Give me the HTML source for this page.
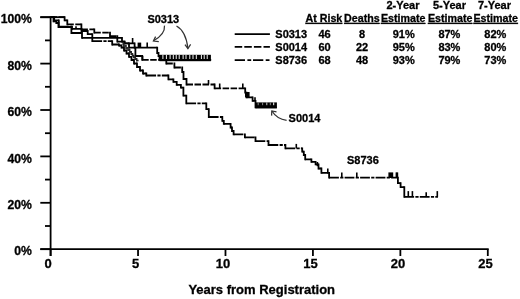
<!DOCTYPE html>
<html><head><meta charset="utf-8"><style>
html,body{margin:0;padding:0;background:#fff;width:520px;height:299px;overflow:hidden}
svg{display:block}
text{font-family:'Liberation Sans',sans-serif;font-weight:bold;fill:#000;stroke:#000;stroke-width:0.3px}
.tl{font-size:13px}
.yl{font-size:12.2px}
.ttl{font-size:13px}
.lg text{font-size:11px}
.lg2{font-size:11px}
.lg text.hd{font-size:10.7px;text-decoration:underline}
svg{will-change:transform;filter:blur(0.3px)}
.ax{stroke:#000;stroke-width:1.8;fill:none}
.c{stroke:#000;stroke-width:1.8;fill:none;stroke-linejoin:miter}
.s2{stroke-dasharray:6.5 1.5}
.l2{stroke-dasharray:7.5 2.1}
.l3{stroke-dasharray:10.3 2.4 3.8 1.8}
.s3{stroke-dasharray:9.8 1.3 3.2 1.2}
.tk{stroke:#000;stroke-width:1.6}
.arr{stroke:#333;stroke-width:1.25;fill:none}
</style></head><body>
<svg width="520" height="299" viewBox="0 0 520 299">
<line x1="40.3" y1="17.2" x2="50.6" y2="17.2" class="ax"/>
<line x1="50.6" y1="16.3" x2="50.6" y2="256" class="ax"/>
<line x1="40.3" y1="249.2" x2="488.7" y2="249.2" class="ax"/>
<line x1="40.3" y1="249.20" x2="50.6" y2="249.20" class="ax"/>
<line x1="45" y1="226.00" x2="50.6" y2="226.00" class="ax"/>
<line x1="40.3" y1="202.80" x2="50.6" y2="202.80" class="ax"/>
<line x1="45" y1="179.60" x2="50.6" y2="179.60" class="ax"/>
<line x1="40.3" y1="156.40" x2="50.6" y2="156.40" class="ax"/>
<line x1="45" y1="133.20" x2="50.6" y2="133.20" class="ax"/>
<line x1="40.3" y1="110.00" x2="50.6" y2="110.00" class="ax"/>
<line x1="45" y1="86.80" x2="50.6" y2="86.80" class="ax"/>
<line x1="40.3" y1="63.60" x2="50.6" y2="63.60" class="ax"/>
<line x1="45" y1="40.40" x2="50.6" y2="40.40" class="ax"/>
<line x1="40.3" y1="17.20" x2="50.6" y2="17.20" class="ax"/>
<line x1="50.60" y1="249.2" x2="50.60" y2="256" class="ax"/>
<text x="48.20" y="267.6" class="tl" text-anchor="middle">0</text>
<line x1="138.04" y1="249.2" x2="138.04" y2="256" class="ax"/>
<text x="135.64" y="267.6" class="tl" text-anchor="middle">5</text>
<line x1="225.48" y1="249.2" x2="225.48" y2="256" class="ax"/>
<text x="223.08" y="267.6" class="tl" text-anchor="middle">10</text>
<line x1="312.92" y1="249.2" x2="312.92" y2="256" class="ax"/>
<text x="310.52" y="267.6" class="tl" text-anchor="middle">15</text>
<line x1="400.36" y1="249.2" x2="400.36" y2="256" class="ax"/>
<text x="397.96" y="267.6" class="tl" text-anchor="middle">20</text>
<line x1="487.80" y1="249.2" x2="487.80" y2="256" class="ax"/>
<text x="485.40" y="267.6" class="tl" text-anchor="middle">25</text>
<text x="31.9" y="255.30" class="yl" text-anchor="end">0%</text>
<text x="31.9" y="208.90" class="yl" text-anchor="end">20%</text>
<text x="31.9" y="162.50" class="yl" text-anchor="end">40%</text>
<text x="31.9" y="116.10" class="yl" text-anchor="end">60%</text>
<text x="31.9" y="69.70" class="yl" text-anchor="end">80%</text>
<text x="31.9" y="23.30" class="yl" text-anchor="end">100%</text>
<text x="188.4" y="294" class="ttl">Years from Registration</text>
<g class="lg">
<text x="403" y="9" text-anchor="middle">2-Year</text>
<text x="449.5" y="9" text-anchor="middle">5-Year</text>
<text x="494.5" y="9" text-anchor="middle">7-Year</text>
<text x="323.9" y="21.9" text-anchor="middle" class="hd">At Risk</text>
<text x="361.9" y="21.9" text-anchor="middle" class="hd">Deaths</text>
<text x="403.2" y="21.9" text-anchor="middle" class="hd">Estimate</text>
<text x="450.2" y="21.9" text-anchor="middle" class="hd">Estimate</text>
<text x="495.7" y="21.9" text-anchor="middle" class="hd">Estimate</text>
<text x="275.3" y="37.9">S0313</text>
<text x="324.5" y="37.9" text-anchor="middle">46</text>
<text x="362" y="37.9" text-anchor="middle">8</text>
<text x="403.7" y="37.9" text-anchor="middle">91%</text>
<text x="449.4" y="37.9" text-anchor="middle">87%</text>
<text x="495.3" y="37.9" text-anchor="middle">82%</text>
<text x="275.3" y="51.0">S0014</text>
<text x="324.5" y="51.0" text-anchor="middle">60</text>
<text x="362" y="51.0" text-anchor="middle">22</text>
<text x="403.7" y="51.0" text-anchor="middle">95%</text>
<text x="449.4" y="51.0" text-anchor="middle">83%</text>
<text x="495.3" y="51.0" text-anchor="middle">80%</text>
<text x="275.3" y="64.1">S8736</text>
<text x="324.5" y="64.1" text-anchor="middle">68</text>
<text x="362" y="64.1" text-anchor="middle">48</text>
<text x="403.7" y="64.1" text-anchor="middle">93%</text>
<text x="449.4" y="64.1" text-anchor="middle">79%</text>
<text x="495.3" y="64.1" text-anchor="middle">73%</text>
</g>
<line x1="234.7" y1="34.1" x2="269.9" y2="34.1" class="c s1"/>
<line x1="234.7" y1="46.8" x2="269.9" y2="46.8" class="c l2"/>
<line x1="234.7" y1="60.1" x2="269.9" y2="60.1" class="c l3"/>
<path d="M50.6,17.2 H53.5 M53.5,21.4 H56.3 M56.3,23 H58.5 M58.5,27 H71.4 M71.4,33.0 H82 M82,37.8 H122 M122,41.6 H124.5 M124.5,43.4 H134.6 M134.6,47.6 H157.2 M157.2,53 H158.5 M158.5,56 H159.5 M159.5,59.9 H211.2" class="c s1"/>
<path d="M53.5,16.30 V22.30 M56.3,20.50 V23.90 M58.5,22.10 V27.90 M71.4,26.10 V33.90 M82,32.10 V38.70 M122,36.90 V42.50 M124.5,40.70 V44.30 M134.6,42.50 V48.50 M157.2,46.70 V53.90 M158.5,52.10 V56.90 M159.5,55.10 V60.80" class="c"/>
<path d="M50.6,17.2 H64.6 M64.6,20.3 H67.3 M67.3,24.4 H81.4 M81.4,29.3 H94.3 M94.3,32.7 H110 M110,36.1 H117.3 M117.3,41.6 H124.5 M124.5,43.4 H129 M129,47.6 H135.4 M135.4,56 H142.2 M142.2,59.9 H166.3 M166.3,63.5 H174.4 M174.4,67.5 H182.2 M182.2,72 H183.5 M183.5,79 H186.5 M186.5,84.5 H214.6 M214.6,88.4 H245.2" class="c s2"/>
<path d="M64.6,16.30 V21.20 M67.3,19.40 V25.30 M81.4,23.50 V30.20 M94.3,28.40 V33.60 M110,31.80 V37.00 M117.3,35.20 V42.50 M124.5,40.70 V44.30 M129,42.50 V48.50 M135.4,46.70 V56.90 M142.2,55.10 V60.80 M166.3,59.00 V64.40 M174.4,62.60 V68.40 M182.2,66.60 V72.90 M183.5,71.10 V79.90 M186.5,78.10 V85.40 M214.6,83.60 V89.30 M245.2,87.50 V93.50" class="c"/>
<path d="M245.2,92.6 H246.5 M246.5,97.4 H252.6 M252.6,100.9 H255.5 M255.5,107.4 H276.7" class="c s1"/>
<path d="M246.5,91.70 V98.30 M252.6,96.50 V101.80 M255.5,100.00 V108.30" class="c"/>
<path d="M50.6,17.2 H54.2 M54.2,20.3 H58.8 M58.8,26.6 H72 M72,28.8 H81.5 M81.5,31.0 H87.7 M87.7,34.1 H92.3 M92.3,41.2 H112.2 M112.2,44.5 H119 M119,45.5 H121.5 M121.5,47.5 H124 M124,50.5 H126.5 M126.5,53.5 H129 M129,56.8 H131.5 M131.5,60 H134 M134,63.5 H137 M137,67 H140 M140,70.5 H143 M143,73.5 H146.3 M146.3,75.5 H168.4 M168.4,79.3 H173.4 M173.4,81.8 H176.7 M176.7,84.8 H180.9 M180.9,87.6 H183.4 M183.4,95.7 H186.3 M186.3,103.3 H206.3 M206.3,109.1 H208.8 M208.8,117 H222.3 M222.3,120.8 H223.8 M223.8,123.8 H230.6 M230.6,127.5 H232 M232,131 H233.6 M233.6,134.4 H244.9 M244.9,137.4 H255.5 M255.5,141.1 H268.5 M268.5,145 H285.4 M285.4,148.4 H302.2 M302.2,151.7 H303.8 M303.8,155 H305.2 M305.2,159.3 H311.4 M311.4,161.8 H315.6 M315.6,164.3 H318.5 M318.5,168.5 H321.4 M321.4,172.9 H329.1 M329.1,177.6 H397.9 M397.9,183.2 H400.6 M400.6,187.1 H404.3 M404.3,196.9 H438" class="c s3"/>
<path d="M54.2,16.30 V21.20 M58.8,19.40 V27.50 M72,25.70 V29.70 M81.5,27.90 V31.90 M87.7,30.10 V35.00 M92.3,33.20 V42.10 M112.2,40.30 V45.40 M119,43.60 V46.40 M121.5,44.60 V48.40 M124,46.60 V51.40 M126.5,49.60 V54.40 M129,52.60 V57.70 M131.5,55.90 V60.90 M134,59.10 V64.40 M137,62.60 V67.90 M140,66.10 V71.40 M143,69.60 V74.40 M146.3,72.60 V76.40 M168.4,74.60 V80.20 M173.4,78.40 V82.70 M176.7,80.90 V85.70 M180.9,83.90 V88.50 M183.4,86.70 V96.60 M186.3,94.80 V104.20 M206.3,102.40 V110.00 M208.8,108.20 V117.90 M222.3,116.10 V121.70 M223.8,119.90 V124.70 M230.6,122.90 V128.40 M232,126.60 V131.90 M233.6,130.10 V135.30 M244.9,133.50 V138.30 M255.5,136.50 V142.00 M268.5,140.20 V145.90 M285.4,144.10 V149.30 M302.2,147.50 V152.60 M303.8,150.80 V155.90 M305.2,154.10 V160.20 M311.4,158.40 V162.70 M315.6,160.90 V165.20 M318.5,163.40 V169.40 M321.4,167.60 V173.80 M329.1,172.00 V178.50 M397.9,176.70 V184.10 M400.6,182.30 V188.00 M404.3,186.20 V197.80" class="c"/>
<path d="M122.3,44 H123.8 M123.8,46 H126 M126,48 H128 M128,50 H129.7 M129.7,52 H131.2 M131.2,54 H132.5 M132.5,55.7 H133.8 M133.8,57.4 H135.3 M135.3,59 H136.7 M136.7,60.5 H138.6" class="c s1" style="stroke:#222;stroke-width:1.5"/>
<path d="M123.8,43.10 V46.90 M126,45.10 V48.90 M128,47.10 V50.90 M129.7,49.10 V52.90 M131.2,51.10 V54.90 M132.5,53.10 V56.60 M133.8,54.80 V58.30 M135.3,56.50 V59.90 M136.7,58.10 V61.40" class="c" style="stroke:#222;stroke-width:1.5"/>
<rect x="159.5" y="54.8" width="51.400000000000006" height="6.400000000000006" fill="#000"/>
<rect x="162.4" y="54.8" width="1.0" height="4.200000000000003" fill="#f4f4f4"/>
<rect x="165.9" y="54.8" width="1.0" height="4.200000000000003" fill="#f4f4f4"/>
<rect x="169.6" y="54.8" width="1.0" height="4.200000000000003" fill="#f4f4f4"/>
<rect x="172.8" y="54.8" width="1.0" height="4.200000000000003" fill="#f4f4f4"/>
<rect x="175.7" y="54.8" width="1.0" height="4.200000000000003" fill="#f4f4f4"/>
<rect x="178.7" y="54.8" width="1.0" height="4.200000000000003" fill="#f4f4f4"/>
<rect x="182.6" y="54.8" width="1.0" height="4.200000000000003" fill="#f4f4f4"/>
<rect x="185.5" y="54.8" width="1.0" height="4.200000000000003" fill="#f4f4f4"/>
<rect x="189.3" y="54.8" width="1.0" height="4.200000000000003" fill="#f4f4f4"/>
<rect x="192.5" y="54.8" width="1.0" height="4.200000000000003" fill="#f4f4f4"/>
<rect x="195.8" y="54.8" width="1.0" height="4.200000000000003" fill="#f4f4f4"/>
<rect x="200.9" y="54.8" width="1.0" height="4.200000000000003" fill="#f4f4f4"/>
<rect x="203.7" y="54.8" width="1.0" height="4.200000000000003" fill="#f4f4f4"/>
<rect x="206.7" y="54.8" width="1.0" height="4.200000000000003" fill="#f4f4f4"/>
<rect x="255.5" y="102.4" width="21.399999999999977" height="5.8999999999999915" fill="#000"/>
<rect x="257.7" y="102.4" width="1.0" height="2.799999999999997" fill="#888"/>
<rect x="262.1" y="102.4" width="1.0" height="2.799999999999997" fill="#888"/>
<rect x="266.3" y="102.4" width="1.0" height="2.799999999999997" fill="#ccc"/>
<rect x="269.8" y="102.4" width="1.0" height="2.799999999999997" fill="#888"/>
<rect x="273.2" y="102.4" width="1.0" height="2.799999999999997" fill="#fff"/>
<rect x="245" y="92" width="4.6" height="5.3" fill="#000"/>
<line x1="132.6" y1="43.4" x2="132.6" y2="38.0" class="tk"/>
<line x1="76" y1="28.8" x2="76" y2="26.3" class="tk"/>
<line x1="147.2" y1="47.6" x2="147.2" y2="42.4" class="tk"/>
<line x1="50.6" y1="17.2" x2="64.6" y2="17.2" class="c"/>
<rect x="137.6" y="42.6" width="3.6" height="5" fill="#000"/>
<line x1="142.6" y1="59.9" x2="142.6" y2="55.9" class="tk"/>
<line x1="208.5" y1="84.5" x2="208.5" y2="80.0" class="tk"/>
<line x1="219.7" y1="88.5" x2="219.7" y2="83.5" class="tk"/>
<line x1="242.8" y1="88.5" x2="242.8" y2="83.5" class="tk"/>
<line x1="255.0" y1="100.9" x2="255.0" y2="97.30000000000001" class="tk"/>
<line x1="296.3" y1="148.4" x2="296.3" y2="143.9" class="tk"/>
<line x1="327.8" y1="173.4" x2="327.8" y2="168.6" class="tk"/>
<line x1="317.4" y1="166.2" x2="317.4" y2="162.0" class="tk"/>
<line x1="341.8" y1="177.6" x2="341.8" y2="172.6" class="tk"/>
<line x1="356.8" y1="177.6" x2="356.8" y2="172.6" class="tk"/>
<rect x="388.4" y="172.4" width="4.8" height="5.6" fill="#000"/>
<line x1="396.4" y1="177.6" x2="396.4" y2="172.4" class="tk"/>
<line x1="397.4" y1="177.6" x2="397.4" y2="172.4" class="tk"/>
<line x1="408.3" y1="196.9" x2="408.3" y2="191.1" class="tk"/>
<line x1="412.4" y1="196.9" x2="412.4" y2="191.1" class="tk"/>
<line x1="437.3" y1="196.9" x2="437.3" y2="191.1" class="tk"/>
<line x1="426.2" y1="196.9" x2="426.2" y2="192.3" class="tk"/>
<text x="147.4" y="22.8" class="lg2">S0313</text>
<text x="288.6" y="122.3" class="lg2">S0014</text>
<text x="347" y="163.7" class="lg2">S8736</text>
<path d="M164.5,25.6 C165,31 162,36 153.6,40.8" class="arr"/>
<path d="M155.6,36.6 L153.4,41 L158.8,41.6" class="arr"/>
<path d="M176.5,26 C182,29 186.5,36 187.9,48.4" class="arr"/>
<path d="M185,44.6 L187.9,48.6 L190.6,44.4" class="arr"/>
<path d="M286.6,120.3 C280,119.5 275,116 271.9,111" class="arr"/>
<path d="M271.6,115.6 L271.8,110.9 L276.5,111.8" class="arr"/>
</svg>
</body></html>
